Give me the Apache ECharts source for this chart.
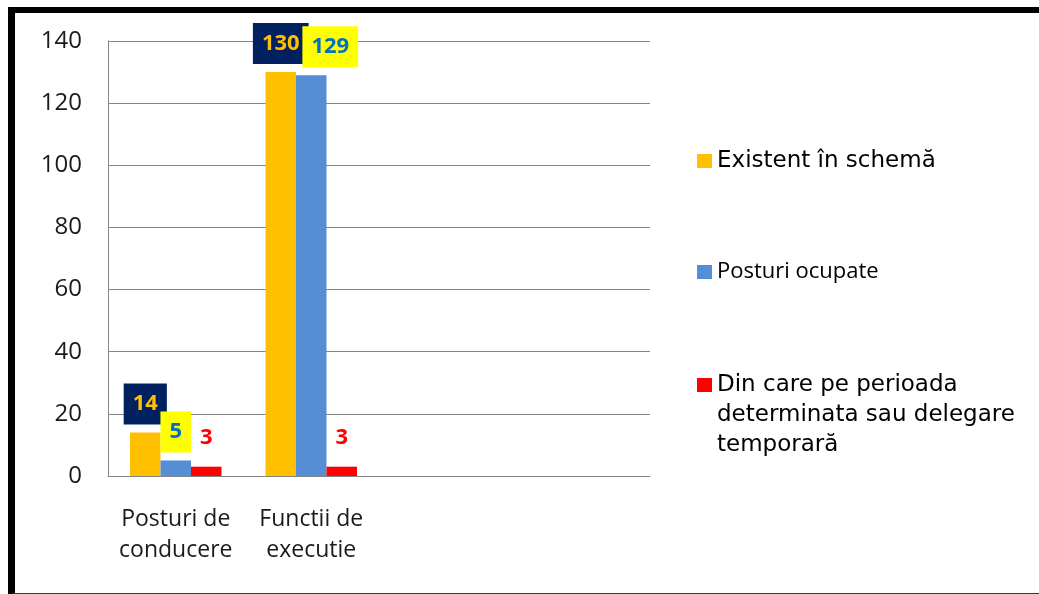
<!DOCTYPE html>
<html>
<head>
<meta charset="utf-8">
<script src="https://cdn.jsdelivr.net/npm/echarts@6/dist/echarts.min.js"></script>
<style>
  html, body { margin: 0; padding: 0; background: #fff; }
  #main { width: 1039px; height: 594px; }
  #frame {
    position: absolute; left: 8px; top: 7px; width: 1100px; height: 580px;
    border-left: 7px solid #000; border-top: 6px solid #000; border-bottom: 2px solid #3a3a3a;
    pointer-events: none;
  }
</style>
</head>
<body>
<div id="main"></div>
<div id="frame"></div>
<script>
// chart values
var categories = ['Posturi de\nconducere', 'Functii de\nexecutie', '', ''];
var seriesNames = [
  'Existent în schemă',
  'Posturi ocupate',
  'Din care pe perioada determinata sau delegare temporară'
];
var existent = [14, 130, null, null];
var ocupate = [5, 129, null, null];
var determinata = [3, 3, null, null];
var yMin = 0, yMax = 140, yStep = 20;

var chartDom = document.getElementById('main');
var myChart = echarts.init(chartDom, null, { renderer: 'canvas' });

var labelBase = {
  show: true,
  position: 'top',
  distance: 8,
  fontFamily: 'Open Sans',
  fontWeight: 'bold',
  fontSize: 22,
  lineHeight: 25,
  padding: [8, 9, 8, 9]
};

function buildSeries() {
  return [
    {
      name: seriesNames[0],
      type: 'bar',
      barGap: 0,
      barCategoryGap: '32.5%',
      itemStyle: { color: '#FFC000' },
      label: Object.assign({}, labelBase, { color: '#FFC000', backgroundColor: '#002060' }),
      data: existent
    },
    {
      name: seriesNames[1],
      type: 'bar',
      itemStyle: { color: '#558ED5' },
      label: Object.assign({}, labelBase, { color: '#0070C0', backgroundColor: '#FFFF00' }),
      // the 129 label was nudged right in the original so it sits beside 130
      data: ocupate.map(function (v, i) {
        return i === 1 ? { value: v, label: { offset: [19, 0] } } : v;
      })
    },
    {
      name: seriesNames[2],
      type: 'bar',
      itemStyle: { color: '#FF0000' },
      label: Object.assign({}, labelBase, { color: '#FF0000' }),
      data: determinata
    }
  ];
}

function legendAt(name, top, font, size, formatter) {
  var lg = {
    orient: 'vertical',
    left: 692,
    top: top,
    icon: 'rect',
    itemWidth: 15,
    itemHeight: 14,
    selectedMode: false,
    data: [name],
    textStyle: { color: '#000', fontFamily: font, fontSize: size, lineHeight: 30 }
  };
  if (formatter) lg.formatter = formatter;
  return lg;
}

var option = {
  animation: false,
  grid: { left: 108, right: 389, top: 41, bottom: 118 },
  xAxis: {
    type: 'category',
    data: categories,
    axisLine: { lineStyle: { color: '#868686', width: 1 } },
    axisTick: { show: false },
    axisLabel: {
      color: '#1a1a1a',
      fontFamily: 'Open Sans',
      fontSize: 23,
      lineHeight: 31,
      margin: 28,
      interval: 0
    }
  },
  yAxis: {
    type: 'value',
    min: yMin,
    max: yMax,
    interval: yStep,
    axisLine: { show: true, lineStyle: { color: '#868686', width: 1 } },
    axisTick: { show: false },
    splitLine: { lineStyle: { color: '#868686', width: 1 } },
    axisLabel: {
      color: '#1a1a1a',
      fontFamily: 'Open Sans',
      fontSize: 24,
      margin: 26
    }
  },
  legend: [
    legendAt(seriesNames[0], 141, 'DejaVu Sans', 23),
    legendAt(seriesNames[1], 252, 'Open Sans', 22),
    // two blank lines on top keep the marker level with the first line of text
    legendAt(seriesNames[2], 305, 'DejaVu Sans', 23, function (name) {
      return '\n\n' + name.replace('perioada ', 'perioada\n').replace('delegare ', 'delegare\n');
    })
  ],
  series: buildSeries()
};

myChart.setOption(option);

window.addEventListener('resize', function () {
  myChart.resize();
});
</script>
</body>
</html>
